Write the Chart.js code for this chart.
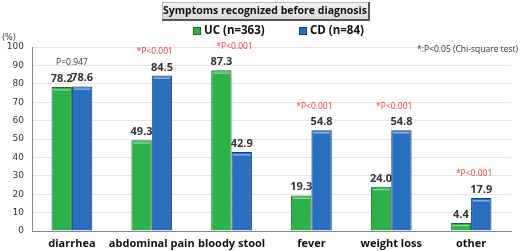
<!DOCTYPE html>
<html><head><meta charset="utf-8">
<script src="https://cdn.jsdelivr.net/npm/chart.js@4.4.1/dist/chart.umd.min.js"></script>
<style>html,body{margin:0;padding:0;background:#fff;}#wrap{width:520px;height:251px;position:relative;}</style>
</head><body><div id="wrap"><canvas id="c" width="520" height="251"></canvas></div>
<script>
const categories = ["diarrhea", "abdominal pain", "bloody stool", "fever", "weight loss", "other"];
const ucValues = [78.2, 49.3, 87.3, 19.3, 24.0, 4.4];
const cdValues = [78.6, 84.5, 42.9, 54.8, 54.8, 17.9];
const pLabels = ["P=0.947", "*P<0.001", "*P<0.001", "*P<0.001", "*P<0.001", "*P<0.001"];
const seriesNames = ["UC (n=363)", "CD (n=84)"];
const yTicks = [0, 10, 20, 30, 40, 50, 60, 70, 80, 90, 100];
const chartTitle = "Symptoms recognized before diagnosis";
const noteText = "*:P<0.05 (Chi-square test)";
const unitText = "(%)";

const FONT = "'Open Sans', sans-serif";
const SFONT = "'DejaVu Sans', Verdana, sans-serif";
const GREEN = "#2db24a", GREEN_D = "#1c6b2b", GREEN_L = "#7fd68f";
const BLUE = "#2a6fbf", BLUE_D = "#173f77", BLUE_L = "#84b4ea";

const deco = {
  id: "deco",
  afterDatasetsDraw(chart) {
    const ctx = chart.ctx;
    const xs = chart.scales.x, ys = chart.scales.y;
    chart.data.datasets.forEach((ds, di) => {
      const meta = chart.getDatasetMeta(di);
      meta.data.forEach((bar) => {
        const w = bar.width;
        ctx.save();
        ctx.fillStyle = di === 0 ? GREEN_L : BLUE_L;
        ctx.fillRect(bar.x - w / 2 + 2, bar.y + 2, w - 4, 1.5);
        ctx.restore();
      });
    });
    ctx.save();
    ctx.font = "bold 11px " + FONT;
    ctx.fillStyle = "#333";
    ctx.textAlign = "center";
    ctx.textBaseline = "alphabetic";
    chart.data.datasets.forEach((ds, di) => {
      const meta = chart.getDatasetMeta(di);
      meta.data.forEach((bar, i) => {
        ctx.fillText(ds.data[i].toFixed(1), bar.x, bar.y - 5);
      });
    });
    ctx.font = "8.5px " + FONT;
    categories.forEach((c, i) => {
      const mx = Math.max(ucValues[i], cdValues[i]);
      const y = ys.getPixelForValue(mx) - 24;
      const x = xs.getPixelForValue(i) + (i === 0 ? 0 : 3);
      const t = pLabels[i];
      ctx.fillStyle = t.startsWith("*") ? "#e8393d" : "#333";
      ctx.textBaseline = "middle";
      ctx.fillText(t, x, y);
    });
    ctx.textAlign = "right";
    ctx.fillStyle = "#333";
    ctx.fillText(noteText, 518, 50);
    ctx.textAlign = "left";
    ctx.font = "8px " + SFONT;
    ctx.fillText(unitText, 2, 38);
    const tx1 = 162, tx2 = 370, ty1 = 2, ty2 = 20;
    const g = ctx.createLinearGradient(0, ty1, 0, ty2);
    g.addColorStop(0, "#f4f4f4"); g.addColorStop(1, "#d8d8d8");
    ctx.fillStyle = g;
    ctx.fillRect(tx1, ty1, tx2 - tx1, ty2 - ty1);
    ctx.strokeStyle = "#bbbbbb"; ctx.lineWidth = 1;
    ctx.strokeRect(tx1 + 0.5, ty1 + 0.5, tx2 - tx1 - 1, ty2 - ty1 - 1);
    ctx.strokeStyle = "#555"; ctx.lineWidth = 2;
    ctx.beginPath(); ctx.moveTo(tx2 - 1, ty1); ctx.lineTo(tx2 - 1, ty2); ctx.lineTo(tx1, ty2); ctx.stroke();
    ctx.fillStyle = "#111";
    ctx.font = "bold 10.5px " + FONT;
    ctx.textAlign = "center"; ctx.textBaseline = "middle";
    ctx.fillText(chartTitle, (tx1 + tx2) / 2 - 1, 11);
    ctx.font = "bold 11.5px " + FONT;
    ctx.textAlign = "left";
    const lx = [193, 299];
    seriesNames.forEach((n, k) => {
      ctx.fillStyle = k === 0 ? GREEN_D : BLUE_D;
      ctx.fillRect(lx[k], 27, 8, 8);
      ctx.fillStyle = k === 0 ? GREEN : BLUE;
      ctx.fillRect(lx[k] + 1, 28, 6, 6);
      ctx.fillStyle = "#111";
      ctx.fillText(n, lx[k] + 11, 31);
    });
    ctx.restore();
  }
};

new Chart(document.getElementById("c"), {
  type: "bar",
  data: {
    labels: categories,
    datasets: [
      { label: seriesNames[0], data: ucValues, backgroundColor: GREEN, borderColor: GREEN_D, borderWidth: 1, categoryPercentage: 0.51, barPercentage: 1 },
      { label: seriesNames[1], data: cdValues, backgroundColor: BLUE, borderColor: BLUE_D, borderWidth: 1, categoryPercentage: 0.51, barPercentage: 1 }
    ]
  },
  options: {
    responsive: false,
    animation: false,
    layout: { padding: { top: 47, right: 9, bottom: 0, left: 0 } },
    plugins: { legend: { display: false }, title: { display: false }, tooltip: { enabled: false } },
    scales: {
      x: {
        grid: { display: false, drawTicks: false },
        border: { color: "#888", width: 1 },
        ticks: { color: "#111", font: { family: FONT, size: 11, weight: "bold" }, padding: 6, maxRotation: 0, minRotation: 0, autoSkip: false },
        afterFit(s) { s.height = 20; }
      },
      y: {
        min: 0, max: 100,
        afterBuildTicks(s) { s.ticks = yTicks.map(v => ({ value: v })); },
        grid: { color: "#e6e6e6", drawTicks: false },
        border: { color: "#888", width: 1 },
        ticks: { color: "#333", font: { family: SFONT, size: 9 }, padding: 8 },
        afterFit(s) { s.width = 32; }
      }
    }
  },
  plugins: [deco]
});
</script></body></html>
